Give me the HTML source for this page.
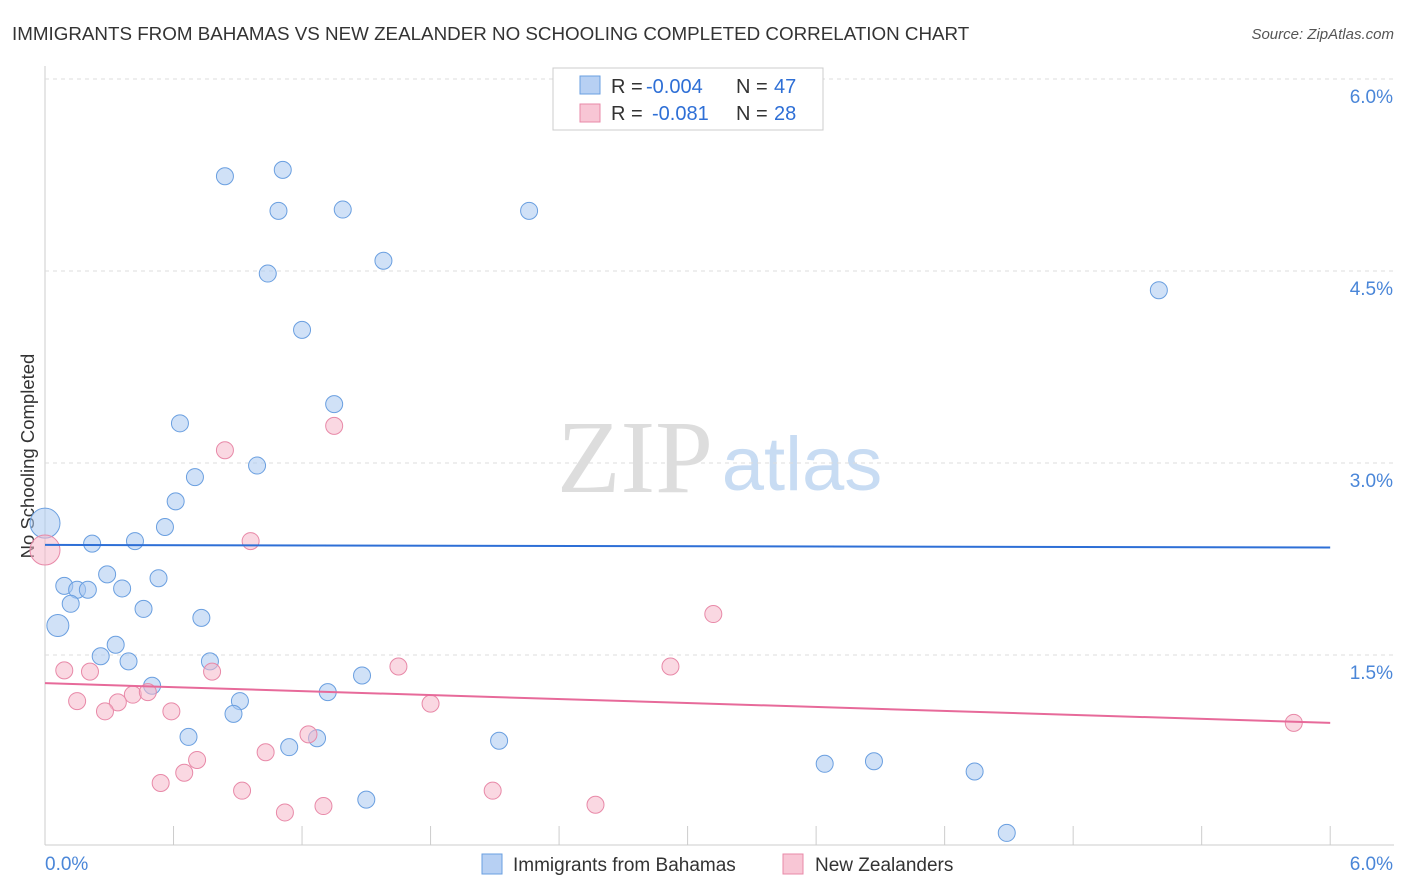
<!DOCTYPE html>
<html><head><meta charset="utf-8"><style>
body{margin:0;background:#fff;font-family:"Liberation Sans",sans-serif;}
svg{display:block}
</style></head><body>
<svg id="c" width="1406" height="892">
<text x="12" y="40" font-size="18.8" fill="#333">IMMIGRANTS FROM BAHAMAS VS NEW ZEALANDER NO SCHOOLING COMPLETED CORRELATION CHART</text>
<text x="1394" y="39" font-size="15" fill="#555" font-style="italic" text-anchor="end">Source: ZipAtlas.com</text>
<text x="34" y="456" font-size="18.5" fill="#333" text-anchor="middle" transform="rotate(-90 34 456)">No Schooling Completed</text>
<g><text x="635" y="492" font-size="104" fill="#ddd" font-family="Liberation Serif" text-anchor="middle">ZIP</text><text x="802" y="490" font-size="76" fill="#c8dcf3" text-anchor="middle">atlas</text></g>
<g id="grid"></g><g id="marks"></g>
<g>
<rect x="553" y="68" width="270" height="62" fill="#fff" stroke="#ccc"/>
<rect x="580" y="76" width="20" height="18" fill="#b7d0f3" stroke="#6a9fe0"/>
<text x="611" y="93" font-size="20" fill="#333">R =</text>
<text x="646" y="93" font-size="20" fill="#2e6fd6">-0.004</text>
<text x="736" y="93" font-size="20" fill="#333">N =</text>
<text x="774" y="93" font-size="20" fill="#2e6fd6">47</text>
<rect x="580" y="104" width="20" height="18" fill="#f8c6d5" stroke="#e889a8"/>
<text x="611" y="120" font-size="20" fill="#333">R =</text>
<text x="652" y="120" font-size="20" fill="#2e6fd6">-0.081</text>
<text x="736" y="120" font-size="20" fill="#333">N =</text>
<text x="774" y="120" font-size="20" fill="#2e6fd6">28</text>
</g>
<g>
<rect x="482" y="854" width="20" height="20" fill="#b7d0f3" stroke="#6a9fe0"/>
<text x="513" y="871" font-size="19" fill="#333">Immigrants from Bahamas</text>
<rect x="783" y="854" width="20" height="20" fill="#f8c6d5" stroke="#e889a8"/>
<text x="815" y="871" font-size="19" fill="#333">New Zealanders</text>
</g>
</svg>
<script>
const blueX=[0.84,1.11,1.09,1.39,2.26,1.04,1.58,5.20,1.20,1.35,0.63,0.70,0.99,0.61,0.56,0.00,0.22,0.42,0.29,0.53,0.09,0.15,0.20,0.36,0.12,0.46,0.06,0.73,0.33,0.26,0.39,0.77,0.50,1.48,1.32,0.91,0.88,0.67,1.14,1.27,2.12,3.64,3.87,4.34,1.50,4.49,3.12];
const blueY=[5.24,5.29,4.97,4.98,4.97,4.48,4.58,4.35,4.04,3.46,3.31,2.89,2.98,2.70,2.50,2.53,2.37,2.39,2.13,2.10,2.04,2.01,2.01,2.02,1.90,1.86,1.73,1.79,1.58,1.49,1.45,1.45,1.26,1.34,1.21,1.14,1.04,0.86,0.78,0.85,0.83,0.65,0.67,0.59,0.37,0.11,5.70];
const blueR=[8.5,8.5,8.5,8.5,8.5,8.5,8.5,8.5,8.5,8.5,8.5,8.5,8.5,8.5,8.5,15,8.5,8.5,8.5,8.5,8.5,8.5,8.5,8.5,8.5,8.5,11,8.5,8.5,8.5,8.5,8.5,8.5,8.5,8.5,8.5,8.5,8.5,8.5,8.5,8.5,8.5,8.5,8.5,8.5,8.5,8.5];
const pinkX=[0.84,1.35,0.96,0.00,3.12,0.09,0.21,0.78,1.65,2.92,0.15,0.41,0.48,0.34,0.28,0.59,1.80,5.83,1.23,1.03,0.71,0.65,0.54,0.92,2.09,1.30,1.12,2.57];
const pinkY=[3.10,3.29,2.39,2.32,1.82,1.38,1.37,1.37,1.41,1.41,1.14,1.19,1.21,1.13,1.06,1.06,1.12,0.97,0.88,0.74,0.68,0.58,0.50,0.44,0.44,0.32,0.27,0.33];
const pinkR=[8.5,8.5,8.5,15,8.5,8.5,8.5,8.5,8.5,8.5,8.5,8.5,8.5,8.5,8.5,8.5,8.5,8.5,8.5,8.5,8.5,8.5,8.5,8.5,8.5,8.5,8.5,8.5];
const yTicks=[1.5,3.0,4.5,6.0];
const trendBlue=[2.36,2.34], trendPink=[1.28,0.97];
const X=v=>45+v*214.2, Y=v=>847-v*128;
const NS="http://www.w3.org/2000/svg";
function mk(t,a,p){const e=document.createElementNS(NS,t);for(const k in a)e.setAttribute(k,a[k]);p.appendChild(e);return e;}
const g=document.getElementById('grid'), m=document.getElementById('marks');
const ax=mk('line',{x1:45,y1:66,x2:45,y2:845,stroke:'#ccc'},g);


const bx=mk('line',{x1:45,y1:845,x2:1394,y2:845,stroke:'#ccc'},g);


for(let i=0;i<=10;i++){const t=mk('line',{x1:X(i*0.6),y1:826,x2:X(i*0.6),y2:845,stroke:'#ccc'},g);

}
yTicks.forEach(v=>{const l=mk('line',{x1:45,y1:Y(v),x2:1394,y2:Y(v),stroke:'#ddd','stroke-dasharray':'4 4'},g);


const t=mk('text',{x:1393,y:Y(v)+24,'font-size':19,fill:'#4a86d8','text-anchor':'end'},g);t.textContent=v.toFixed(1)+'%';

});
const x0=mk('text',{x:45,y:870,'font-size':19,fill:'#4a86d8'},g);x0.textContent='0.0%';


const x1=mk('text',{x:1393,y:870,'font-size':19,fill:'#4a86d8','text-anchor':'end'},g);x1.textContent='6.0%';


blueX.forEach((v,i)=>{const c=mk('circle',{cx:X(v),cy:Y(blueY[i]),r:blueR[i],fill:'rgba(169,200,240,0.55)',stroke:'#6a9fe0','stroke-width':1},m);

});
pinkX.forEach((v,i)=>{const c=mk('circle',{cx:X(v),cy:Y(pinkY[i]),r:pinkR[i],fill:'rgba(245,184,203,0.55)',stroke:'#e889a8','stroke-width':1},m);

});
const lb=mk('line',{x1:X(0),y1:Y(trendBlue[0]),x2:X(6),y2:Y(trendBlue[1]),stroke:'#2e6fd6','stroke-width':2},m);


const lp=mk('line',{x1:X(0),y1:Y(trendPink[0]),x2:X(6),y2:Y(trendPink[1]),stroke:'#e76a9a','stroke-width':2},m);


</script>
</body></html>
